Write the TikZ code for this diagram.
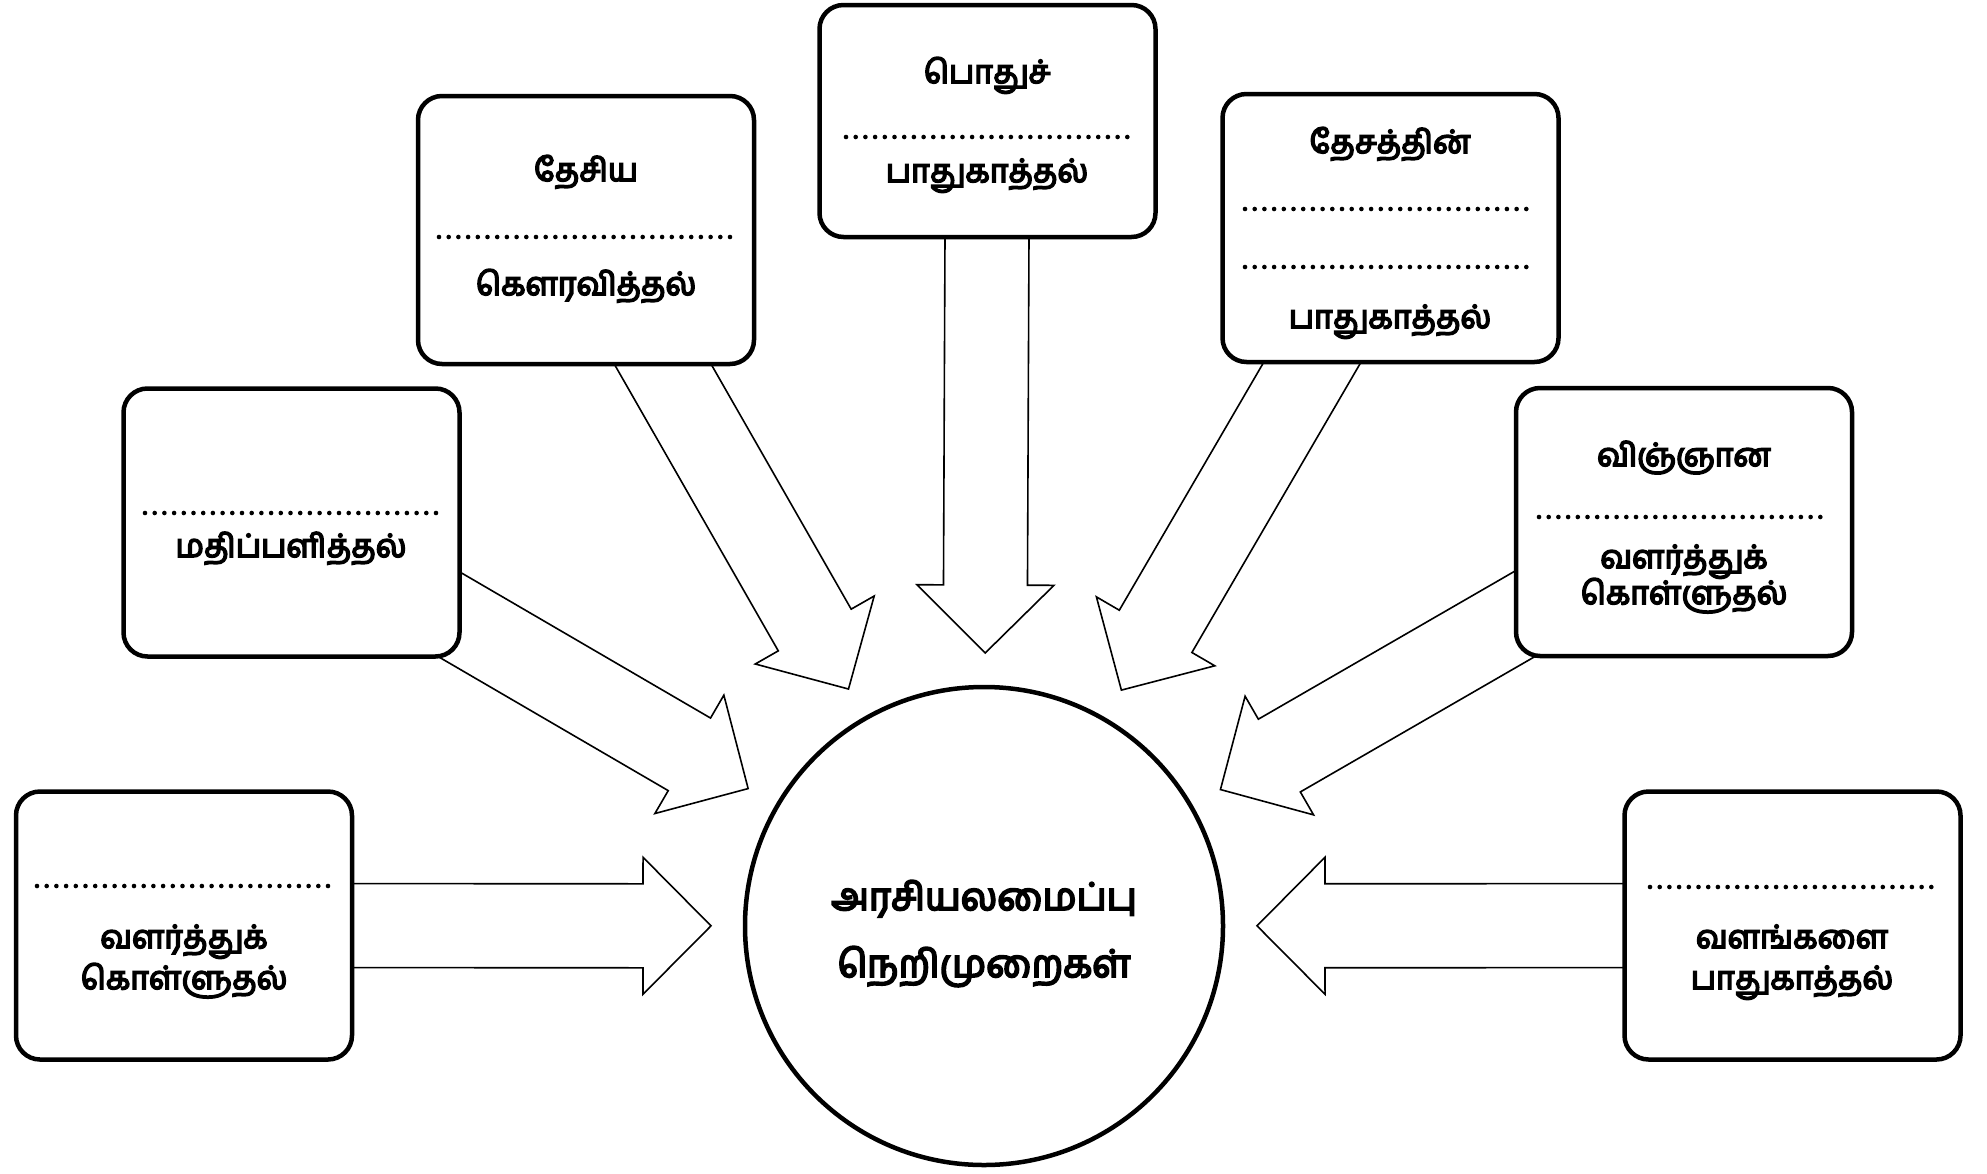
\documentclass[tikz,border=0pt]{standalone}
\usepackage{fontspec}
\newfontfamily\tamil[Script=Tamil,FakeBold=5]{Hind Madurai}
\usetikzlibrary{calc}
\pgfdeclarelayer{bg}
\pgfsetlayers{bg,main}
\tikzset{
  box/.style={draw, line width=4.5pt, rounded corners=24pt, fill=white,
    minimum width=336pt, minimum height=268pt, inner sep=0pt},
  hub/.style={draw, circle, line width=4.5pt, fill=white, minimum size=478pt, inner sep=0pt},
  lbl/.style={anchor=base, inner sep=0pt, font=\tamil\fontsize{32}{38}\selectfont},
  biglbl/.style={anchor=base, inner sep=0pt, font=\tamil\fontsize{38}{45}\selectfont},
  dotline/.style={line width=4.6pt, line cap=round, dash pattern=on 0pt off 9.7pt},
  barrow/.style={draw, line width=1.6pt, fill=white, line join=miter},
}
\newcommand\blockarrow[1]{%
  \coordinate (T) at ($(c.center)!273pt!(#1.center)$);
  \coordinate (H) at ($(c.center)!341pt!(#1.center)$);
  \draw[barrow] ($(#1.center)!42pt!90:(T)$) -- ($(H)!42pt!90:(T)$)
    -- ($(H)!68.5pt!90:(T)$) -- (T) -- ($(H)!68.5pt!-90:(T)$)
    -- ($(H)!42pt!-90:(T)$) -- ($(#1.center)!42pt!-90:(T)$) -- cycle;
}
\begin{document}
\begin{tikzpicture}[x=1pt,y=-1pt]
\useasboundingbox (0,0) rectangle (1987,1173);

% hub
\node[hub] (c) at (984,926) {};
\node[biglbl] (c1) at (984,910) {அரசியலமைப்பு};
\node[biglbl] (c2) at (984,977) {நெறிமுறைகள்};

% boxes
\node[box] (b1) at (184,925.5) {};
\node[box] (b2) at (291.5,522.5) {};
\node[box] (b3) at (586,230) {};
\node[box, minimum height=232pt] (b4) at (987.5,121) {};
\node[box] (b5) at (1390.5,228) {};
\node[box] (b6) at (1684,522) {};
\node[box] (b7) at (1792.5,925.5) {};

% background and arrows (behind boxes)
\begin{pgfonlayer}{bg}
\fill[white] (0,0) rectangle (1987,1173);
\blockarrow{b1}
\blockarrow{b2}
\blockarrow{b3}
\blockarrow{b4}
\blockarrow{b5}
\blockarrow{b6}
\blockarrow{b7}
\end{pgfonlayer}

% dotted blanks
\draw[dotline] (37,886) -- (330,886);
\draw[dotline] (145,513) -- (437,513);
\draw[dotline] (439,237) -- (731,237);
\draw[dotline] (846,137) -- (1128,137);
\draw[dotline] (1245,209) -- (1535,209);
\draw[dotline] (1245,267) -- (1535,267);
\draw[dotline] (1539,517) -- (1829,517);
\draw[dotline] (1650,887) -- (1933,887);

% texts
\node[lbl] (t1a) at (184,948) {வளர்த்துக்};
\node[lbl] (t1b) at (184,989) {கொள்ளுதல்};
\node[lbl] (t2a) at (291,557) {மதிப்பளித்தல்};
\node[lbl] (t3a) at (586,181) {தேசிய};
\node[lbl] (t3b) at (586,295) {கௌரவித்தல்};
\node[lbl] (t4a) at (987,83) {பொதுச்};
\node[lbl] (t4b) at (987,182) {பாதுகாத்தல்};
\node[lbl] (t5a) at (1390,153) {தேசத்தின்};
\node[lbl] (t5b) at (1390,328) {பாதுகாத்தல்};
\node[lbl] (t6a) at (1684,466) {விஞ்ஞான};
\node[lbl] (t6b) at (1684,568) {வளர்த்துக்};
\node[lbl] (t6c) at (1684,604) {கொள்ளுதல்};
\node[lbl] (t7a) at (1792,948) {வளங்களை};
\node[lbl] (t7b) at (1792,989) {பாதுகாத்தல்};
\end{tikzpicture}
\end{document}
